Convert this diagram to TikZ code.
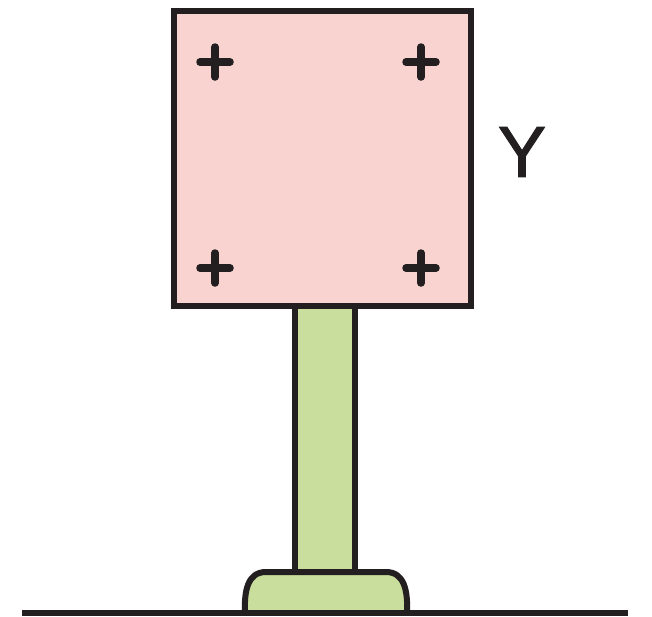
\documentclass[tikz,border=0pt]{standalone}
\usepackage{fontspec}
\setmainfont{Liberation Sans}
\usetikzlibrary{positioning}
\definecolor{signpink}{HTML}{F9D3CF}
\definecolor{postgreen}{HTML}{C9DD9C}
\definecolor{inkblack}{HTML}{231F20}

\begin{document}
\begin{tikzpicture}[x=1pt, y=-1pt,
					outline/.style={draw=inkblack, line width=6pt},
					plusmark/.style={draw=inkblack, line width=7.5pt, line cap=round}]
\useasboundingbox (0,0) rectangle (652,616);

\draw[outline, fill=postgreen] (295,300) rectangle (355,574);
\draw[outline, fill=postgreen] (245,613)
	.. controls (244,590) and (248,572) .. (266,572) -- (386,572)
	.. controls (404,572) and (408,590) .. (407,613);
\draw[outline, fill=signpink] (174,11) rectangle (471,306);
\foreach \x in {215,421}
	\foreach \y in {62,268}
		\draw[plusmark] (\x-15,\y) -- (\x+15,\y) (\x,\y-15) -- (\x,\y+15);
\coordinate (groundleft) at (22,613);
\coordinate (groundright) at (628,613);
\draw[draw=inkblack, line width=6.5pt] (groundleft) -- (groundright);
\node[text=inkblack, font=\fontsize{72}{72}\selectfont\addfontfeature{FakeBold=1.5}] (ylabel) at (522,152) {Y};
\end{tikzpicture}
\end{document}
